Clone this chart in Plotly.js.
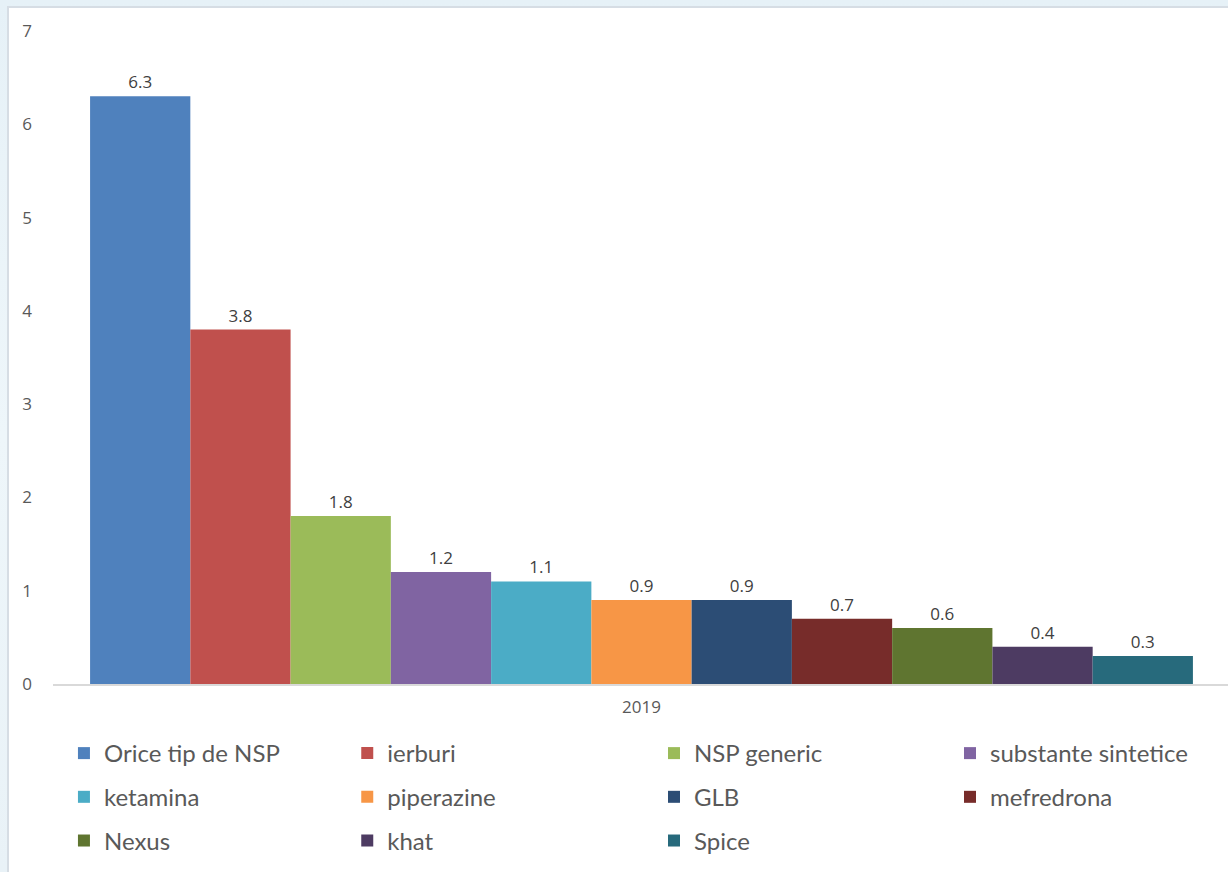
<!DOCTYPE html>
<html>
<head>
<meta charset="utf-8">
<script src="https://cdn.plot.ly/plotly-3.0.1.min.js"></script>
<style>
  html, body { margin: 0; padding: 0; }
  body { width: 1228px; height: 872px; overflow: hidden;
         background: linear-gradient(180deg, #e6f1f7 0%, #eef6fa 50%, #e9f2f7 100%); position: relative; }
  #panel { position: absolute; left: 7px; top: 6px; width: 1225px; height: 870px;
           background: #ffffff; border-left: 2px solid #d6dde4; border-top: 2px solid #d6dde4; }
  #chart { position: absolute; left: 0; top: 0; width: 1221px; height: 866px; }
</style>
</head>
<body>
<div id="panel"><div id="chart"></div></div>
<script>
const categories = ['2019'];
const seriesNames = ['Orice tip de NSP', 'ierburi', 'NSP generic', 'substante sintetice',
                     'ketamina', 'piperazine', 'GLB', 'mefredrona',
                     'Nexus', 'khat', 'Spice'];
const seriesValues = [6.3, 3.8, 1.8, 1.2, 1.1, 0.9, 0.9, 0.7, 0.6, 0.4, 0.3];
const seriesColors = ['#4F81BD', '#C0504D', '#9BBB59', '#8064A2', '#4BACC6', '#F79646',
                      '#2C4D75', '#772C2A', '#5F7530', '#4D3B62', '#276A7C'];
const yTicks = [0, 1, 2, 3, 4, 5, 6, 7];

// legend is laid out in 4 columns (row-major order of the series)
const legendIds = ['legend', 'legend2', 'legend3', 'legend4'];

const traces = seriesNames.map((name, i) => ({
  type: 'bar',
  name: name,
  x: categories,
  y: [seriesValues[i]],
  marker: { color: seriesColors[i], line: { width: 0 } },
  texttemplate: '%{y:.1f}',
  textposition: 'outside',
  constraintext: 'none',
  textfont: { family: 'Open Sans, DejaVu Sans, sans-serif', size: 17, color: '#404040' },
  cliponaxis: false,
  legend: legendIds[i % 4],
  legendgroup: 'g' + i,
  legendrank: i,
  hoverinfo: 'name+y'
}));

const legendBase = {
  orientation: 'v',
  xanchor: 'left',
  yanchor: 'top',
  y: -0.072,
  tracegroupgap: 9.5,
  font: { family: 'Lato, Carlito, sans-serif', size: 24, color: '#595959' },
  bgcolor: 'rgba(0,0,0,0)',
  itemclick: false,
  itemdoubleclick: false
};

const layout = {
  width: 1221,
  height: 866,
  margin: { l: 44, r: 0, t: 23, b: 190 },
  paper_bgcolor: 'rgba(0,0,0,0)',
  plot_bgcolor: 'rgba(0,0,0,0)',
  barmode: 'group',
  bargap: 0.063,
  bargroupgap: 0,
  showlegend: true,
  xaxis: {
    type: 'category',
    showline: true,
    linecolor: '#d9d9d9',
    linewidth: 1.5,
    showgrid: false,
    zeroline: false,
    ticks: '',
    ticklabelstandoff: 7,
    tickfont: { family: 'Open Sans, DejaVu Sans, sans-serif', size: 17, color: '#595959' }
  },
  yaxis: {
    range: [0, 7],
    tickvals: yTicks,
    ticktext: yTicks.map(String),
    showgrid: false,
    zeroline: false,
    showline: false,
    ticks: '',
    ticklabelstandoff: 20,
    tickfont: { family: 'Open Sans, DejaVu Sans, sans-serif', size: 17, color: '#595959' }
  },
  legend: Object.assign({}, legendBase, { x: 0.0093 }),
  legend2: Object.assign({}, legendBase, { x: 0.250 }),
  legend3: Object.assign({}, legendBase, { x: 0.5106 }),
  legend4: Object.assign({}, legendBase, { x: 0.7621 })
};

Plotly.newPlot('chart', traces, layout, { displayModeBar: false, staticPlot: true });
</script>
</body>
</html>
